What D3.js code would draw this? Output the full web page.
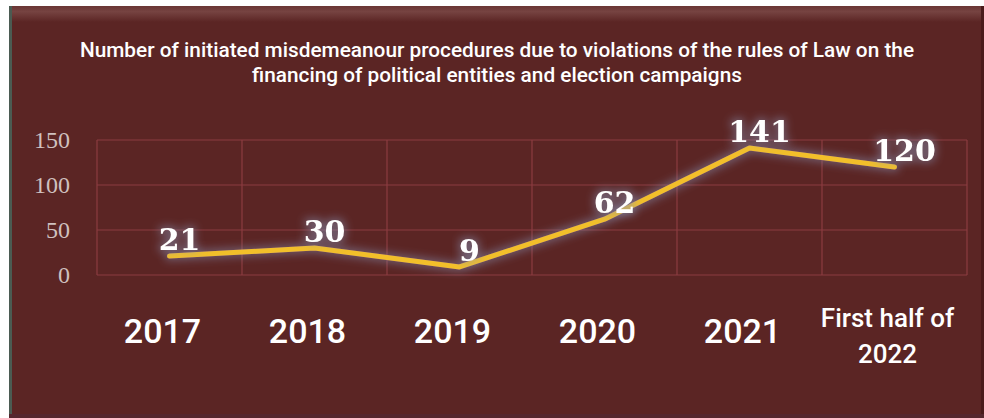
<!DOCTYPE html>
<html>
<head>
<meta charset="utf-8">
<script src="https://cdn.jsdelivr.net/npm/d3@7"></script>
<style>
    html, body { margin: 0; padding: 0; background: #ffffff; }
    #chart { width: 984px; height: 418px; }
</style>
</head>
<body>
<div id="chart"></div>
<script>
// data
const categories = ['2017', '2018', '2019', '2020', '2021', 'First half of 2022'];
const procedures = [21, 30, 9, 62, 141, 120];
const yTicks = [0, 50, 100, 150];
const titleLines = [
    'Number of initiated misdemeanour procedures due to violations of the rules of Law on the',
    'financing of political entities and election campaigns'
];

function misdemeanourChart(parentElementTag) {
    let parentElement = d3.select(parentElementTag);

    let width = parentElement.node().clientWidth;
    let height = parentElement.node().clientHeight;

    const margin = {top: 140, right: 17, bottom: 143, left: 97};

    const svg = d3.create('svg')
        .attr('viewBox', [0, 0, width, height])
        .attr('width', width)
        .attr('height', height);

    let defs = svg.append('defs');

    // bevel at the top of the panel
    let bevel = defs.append('linearGradient')
        .attr('id', 'bevel')
        .attr('x1', 0).attr('x2', 0).attr('y1', 0).attr('y2', 1);
    bevel.append('stop').attr('offset', 0).attr('stop-color', '#6a3634');
    bevel.append('stop').attr('offset', 0.35).attr('stop-color', '#764341');
    bevel.append('stop').attr('offset', 1).attr('stop-color', '#5b2524');

    // soft grey-blue glow used by the line and its labels
    let glow = defs.append('filter')
        .attr('id', 'glow')
        .attr('x', '-30%').attr('y', '-60%')
        .attr('width', '160%').attr('height', '220%');
    glow.append('feMorphology').attr('in', 'SourceAlpha').attr('operator', 'dilate').attr('radius', 2).attr('result', 'fat');
    glow.append('feGaussianBlur').attr('in', 'fat').attr('stdDeviation', 4).attr('result', 'blur');
    glow.append('feFlood').attr('flood-color', '#8792b4').attr('flood-opacity', 0.5);
    glow.append('feComposite').attr('in2', 'blur').attr('operator', 'in').attr('result', 'shade');
    let merge = glow.append('feMerge');
    merge.append('feMergeNode').attr('in', 'shade');
    merge.append('feMergeNode').attr('in', 'SourceGraphic');

    _renderPanel();

    let x = d3.scaleBand()
        .domain(categories)
        .range([margin.left, width - margin.right]);

    let y = d3.scaleLinear()
        .domain([0, 150])
        .range([height - margin.bottom, margin.top]);

    _renderTitle();
    _renderGrid();
    _renderLine();
    _renderCategoryLabels();

    function _renderPanel() {
        svg.append('rect')
            .attr('x', 9).attr('y', 6)
            .attr('width', width - 9).attr('height', height - 6)
            .attr('fill', '#5b2524');

        svg.append('rect')
            .attr('x', 9).attr('y', 6)
            .attr('width', width - 9).attr('height', 16)
            .attr('fill', 'url(#bevel)');

        svg.append('rect')
            .attr('x', 9).attr('y', 6)
            .attr('width', 3).attr('height', height - 6)
            .attr('fill', '#4b5b52');

        svg.append('rect')
            .attr('x', width - 3).attr('y', 6)
            .attr('width', 3).attr('height', height - 6)
            .attr('fill', '#4a1b1b');

        svg.append('rect')
            .attr('x', 9).attr('y', height - 4)
            .attr('width', width - 9).attr('height', 4)
            .attr('fill', '#55272e');
    }

    function _renderTitle() {
        svg.append('text')
            .attr('text-anchor', 'middle')
            .attr('fill', '#ffffff')
            .style('font-family', 'Roboto, sans-serif')
            .style('font-weight', 500)
            .style('font-size', '20.8px')
            .selectAll('tspan')
            .data(titleLines)
            .join('tspan')
            .attr('x', 497)
            .attr('y', (d, i) => 57 + i * 25)
            .text(d => d);
    }

    function _renderGrid() {
        let grid = svg.append('g')
            .attr('stroke', '#8c3c40')
            .attr('stroke-width', 1.2);

        grid.selectAll('line.h')
            .data(yTicks)
            .join('line')
            .attr('class', 'h')
            .attr('x1', margin.left).attr('x2', width - margin.right)
            .attr('y1', d => y(d)).attr('y2', d => y(d));

        let edges = categories.map(c => x(c)).concat([x.range()[1]]);
        grid.selectAll('line.v')
            .data(edges)
            .join('line')
            .attr('class', 'v')
            .attr('x1', d => d).attr('x2', d => d)
            .attr('y1', y(150)).attr('y2', y(0));

        let yAxis = g => g
            .attr('transform', `translate(${margin.left - 27}, 0)`)
            .call(d3.axisLeft(y).tickValues(yTicks).tickSize(0).tickPadding(0))
            .call(g => g.select('.domain').remove())
            .call(g => g.selectAll('text')
                .attr('fill', '#cfc0bf')
                .style('font-family', '"Liberation Serif", serif')
                .style('font-size', '24px'));

        svg.append('g').call(yAxis);
    }

    function _renderLine() {
        let cx = d => x(d.cat) + x.bandwidth() / 2;
        let points = categories.map((c, i) => ({cat: c, value: procedures[i]}));

        let line = d3.line()
            .x(cx)
            .y(d => y(d.value));

        svg.append('path')
            .datum(points)
            .attr('d', line)
            .attr('fill', 'none')
            .attr('stroke', '#f2bf2c')
            .attr('stroke-width', 5)
            .attr('stroke-linecap', 'round')
            .attr('stroke-linejoin', 'round')
            .attr('filter', 'url(#glow)');

        svg.append('g')
            .selectAll('text')
            .data(points)
            .join('text')
            .attr('x', d => cx(d) + 10)
            .attr('y', d => y(d.value) - 6)
            .attr('text-anchor', 'middle')
            .attr('fill', '#ffffff')
            .attr('filter', 'url(#glow)')
            .style('font-family', '"DejaVu Serif", serif')
            .style('font-weight', 'bold')
            .style('font-size', '30px')
            .text(d => d.value);
    }

    function _renderCategoryLabels() {
        let labels = svg.append('g')
            .selectAll('text')
            .data(categories)
            .join('text')
            .attr('text-anchor', 'middle')
            .attr('fill', '#ffffff')
            .style('font-family', 'Roboto, sans-serif')
            .style('font-weight', 500);

        // long category breaks after "of" and uses a smaller size
        labels.each(function (d) {
            let t = d3.select(this);
            let cx = x(d) + x.bandwidth() / 2 - 7;
            if (d.length > 4) {
                let parts = [d.slice(0, d.lastIndexOf(' ')), d.slice(d.lastIndexOf(' ') + 1)];
                t.style('font-size', '26px');
                t.selectAll('tspan')
                    .data(parts)
                    .join('tspan')
                    .attr('x', cx)
                    .attr('y', (p, i) => 327 + i * 36)
                    .text(p => p);
            } else {
                t.attr('x', cx).attr('y', 343)
                    .style('font-size', '34px')
                    .text(d);
            }
        });
    }

    return svg.node();
}

document.getElementById('chart').appendChild(misdemeanourChart('#chart'));
</script>
</body>
</html>
